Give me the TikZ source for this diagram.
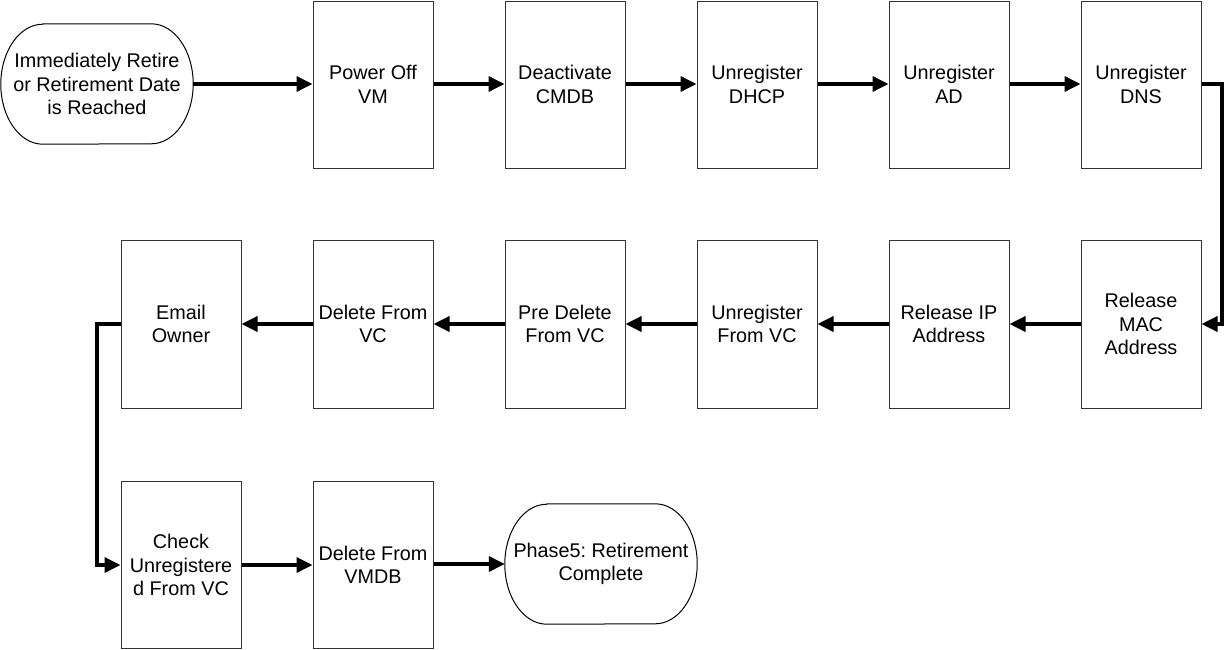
\documentclass[tikz,border=0pt]{standalone}
\usepackage{fontspec}
\setmainfont{Liberation Sans}
\frenchspacing
\usetikzlibrary{arrows.meta,calc}
\tikzset{
  box/.style={draw=black!80, line width=1pt, minimum width=120pt, minimum height=167pt, align=center, inner sep=0pt,
    font=\fontsize{19.8}{23.5}\selectfont},
  term/.style={draw=none, align=center, inner sep=0pt, minimum width=192pt, minimum height=120pt,
    font=\fontsize{19.8}{23.5}\selectfont},
  arr/.style={line width=3.5pt, -{Triangle[length=16pt,width=15pt]}},
  termline/.style={draw=black, line width=1pt}
}
\begin{document}
\begin{tikzpicture}[x=1pt,y=1pt]
\useasboundingbox (0,0) rectangle (1226,-649);
% start terminator
\node[term] (start) at (97,-84) {Immediately Retire\\or Retirement Date\\is Reached};
\draw[termline] ($(start.north west)+(42,0)$) -- ($(start.north east)+(-42,0)$)
  arc[start angle=90,end angle=-90,x radius=42pt,y radius=60pt]
  -- ($(start.south west)+(42,0)$)
  arc[start angle=270,end angle=90,x radius=42pt,y radius=60pt] -- cycle;
% row 1
\node[box] (poweroff) at (373,-84.5) {Power Off\\VM};
\node[box] (cmdb) at (565,-84.5) {Deactivate\\CMDB};
\node[box] (dhcp) at (757,-84.5) {Unregister\\DHCP};
\node[box] (ad) at (949,-84.5) {Unregister\\AD};
\node[box] (dns) at (1141,-84.5) {Unregister\\DNS};
% row 2
\node[box, minimum height=168pt] (mac) at (1141,-324) {Release\\MAC\\Address};
\node[box, minimum height=168pt] (ip) at (949,-324) {Release IP\\Address};
\node[box, minimum height=168pt] (unvc) at (757,-324) {Unregister\\From VC};
\node[box, minimum height=168pt] (predel) at (565,-324) {Pre Delete\\From VC};
\node[box, minimum height=168pt] (delvc) at (373,-324) {Delete From\\VC};
\node[box, minimum height=168pt] (email) at (181,-324) {Email\\Owner};
% row 3
\node[box] (check) at (181,-565) {Check\\Unregistere\\d From VC};
\node[box] (vmdb) at (373,-565) {Delete From\\VMDB};
\node[term] (done) at (601,-564) {Phase5: Retirement\\Complete};
\draw[termline] ($(done.north west)+(42,0)$) -- ($(done.north east)+(-42,0)$)
  arc[start angle=90,end angle=-90,x radius=42pt,y radius=60pt]
  -- ($(done.south west)+(42,0)$)
  arc[start angle=270,end angle=90,x radius=42pt,y radius=60pt] -- cycle;
% connectors
\draw[arr] (start.east) -- (poweroff.west|-start.east);
\draw[arr] (poweroff.east|-start.east) -- (cmdb.west|-start.east);
\draw[arr] (cmdb.east|-start.east) -- (dhcp.west|-start.east);
\draw[arr] (dhcp.east|-start.east) -- (ad.west|-start.east);
\draw[arr] (ad.east|-start.east) -- (dns.west|-start.east);
\coordinate (c1) at (1222,-84);
\draw[arr] (dns.east|-start.east) -- (c1) |- (mac.east);
\draw[arr] (mac.west) -- (ip.east);
\draw[arr] (ip.west) -- (unvc.east);
\draw[arr] (unvc.west) -- (predel.east);
\draw[arr] (predel.west) -- (delvc.east);
\draw[arr] (delvc.west) -- (email.east);
\coordinate (c2) at (97,-324);
\draw[arr] (email.west) -- (c2) |- (check.west);
\draw[arr] (check.east) -- (vmdb.west);
\draw[arr] (vmdb.east|-done.west) -- (done.west);
\end{tikzpicture}
\end{document}
